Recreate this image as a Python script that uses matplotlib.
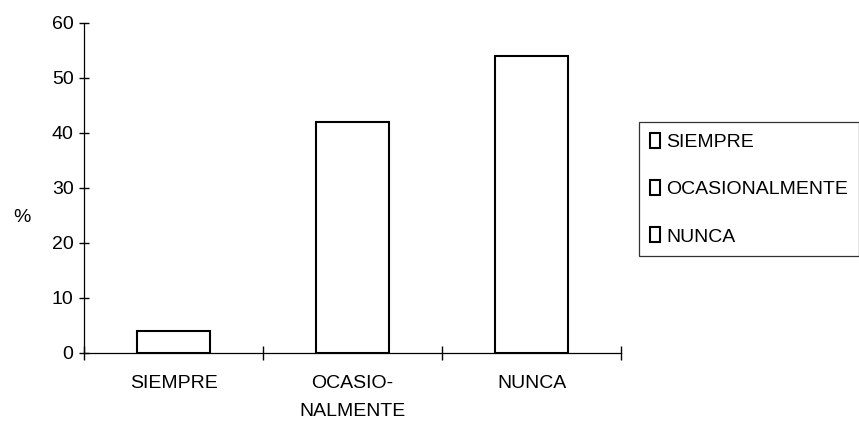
import matplotlib.pyplot as plt
import numpy as np

categories = ['SIEMPRE', 'OCASIONALMENTE', 'NUNCA']
tick_labels = ['SIEMPRE', 'OCASIO-\nNALMENTE', 'NUNCA']
values = [4, 42, 54]
y_ticks = [0, 10, 20, 30, 40, 50, 60]

plt.rcParams['font.family'] = ['Liberation Sans', 'DejaVu Sans']
plt.rcParams['font.size'] = 14

fig = plt.figure(figsize=(8.59, 4.42), dpi=100)
ax = fig.add_axes([0.0978, 0.2014, 0.6252, 0.7466])

x = np.arange(len(categories))
for xi, v, name in zip(x, values, categories):
    ax.bar(xi, v, width=0.41, color='white', edgecolor='black', linewidth=1.5, label=name)

ax.set_xlim(-0.5, len(categories) - 0.5)
ax.set_ylim(0, 60)
ax.set_yticks(y_ticks)

# labels at category centres, tick marks at category boundaries
ax.set_xticks(x)
ax.set_xticklabels(tick_labels, linespacing=1.85)
ax.set_xticks(np.arange(len(categories) + 1) - 0.5, minor=True)
ax.tick_params(axis='x', which='major', length=0, pad=16)
ax.tick_params(axis='x', which='minor', direction='inout', length=10, width=1)
ax.tick_params(axis='y', direction='inout', length=7, width=1, pad=4)

for side in ('top', 'right'):
    ax.spines[side].set_visible(False)
ax.spines['left'].set_linewidth(0.9)
ax.spines['bottom'].set_linewidth(0.9)

ax.set_ylabel('%', rotation=0, va='center', ha='center')
ax.yaxis.set_label_coords(-0.115, 0.41)

leg = fig.legend(loc='upper left', bbox_to_anchor=(0.744, 0.724), bbox_transform=fig.transFigure,
                 borderaxespad=0, frameon=True, fancybox=False, edgecolor='black',
                 handlelength=0.55, handleheight=0.8, handletextpad=0.3, labelspacing=1.5,
                 borderpad=0.55)
leg.get_frame().set_linewidth(0.9)

fig.savefig('out.png', dpi=100)
